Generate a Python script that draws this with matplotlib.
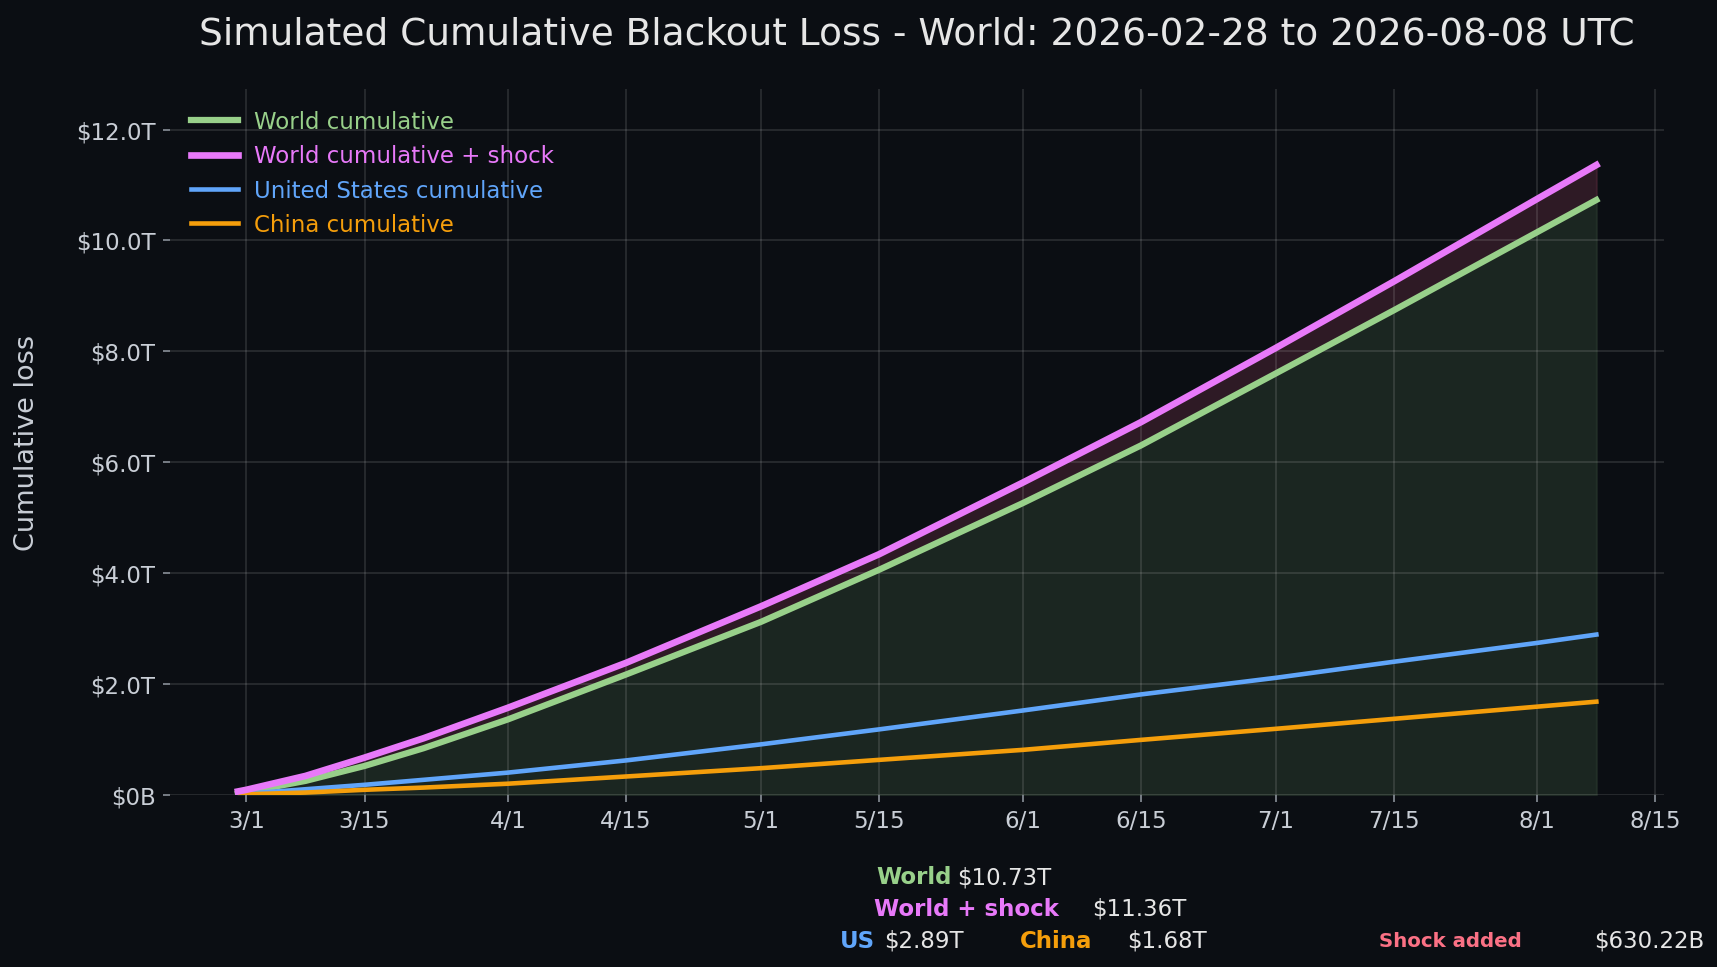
import matplotlib
matplotlib.use("Agg")
import matplotlib.pyplot as plt
import matplotlib.dates as mdates
import matplotlib.transforms as mtransforms
from matplotlib.ticker import FuncFormatter
import numpy as np
from datetime import datetime

# values, in trillions of USD
dates = ["2026-02-28", "2026-03-01", "2026-03-08", "2026-03-15", "2026-03-22",
         "2026-04-01", "2026-04-15", "2026-05-01", "2026-05-15", "2026-06-01",
         "2026-06-15", "2026-07-01", "2026-07-15", "2026-08-01", "2026-08-08"]
world = [0.02, 0.05, 0.25, 0.52, 0.84, 1.36, 2.17, 3.12, 4.06, 5.26,
         6.30, 7.60, 8.74, 10.15, 10.73]
world_shock = [0.06, 0.09, 0.34, 0.67, 1.02, 1.57, 2.38, 3.40, 4.34, 5.63,
               6.72, 8.06, 9.26, 10.75, 11.36]
us = [0.01, 0.02, 0.10, 0.18, 0.27, 0.40, 0.62, 0.91, 1.18, 1.52,
      1.81, 2.11, 2.40, 2.74, 2.89]
china = [0.005, 0.01, 0.04, 0.09, 0.13, 0.20, 0.33, 0.48, 0.63, 0.81,
         0.99, 1.19, 1.37, 1.59, 1.68]

totals_world = "$10.73T"
totals_shock = "$11.36T"
totals_us = "$2.89T"
totals_china = "$1.68T"
shock_added = "$630.22B"

BG = "#0b0e13"
GREEN = "#98d08a"
PINK = "#e879f9"
BLUE = "#60a5fa"
ORANGE = "#f59e0b"
TXT = "#e6e6e6"
TICK = "#c9ced6"

x = [datetime.strptime(d, "%Y-%m-%d") for d in dates]
w = np.array(world)
ws = np.array(world_shock)

fig = plt.figure(figsize=(11.45, 6.45), dpi=150, facecolor=BG)
ax = fig.add_axes([0.099, 0.178, 0.870, 0.729], facecolor=BG)

ax.fill_between(x, 0, w, color="#2a3a2e", alpha=0.55, lw=1)
ax.fill_between(x, w, ws, color="#5a2a3c", alpha=0.45, lw=1)
ax.plot(x, world, color=GREEN, lw=3, label="World cumulative", zorder=3)
ax.plot(x, world_shock, color=PINK, lw=3.2, label="World cumulative + shock", zorder=4)
ax.plot(x, us, color=BLUE, lw=2.2, label="United States cumulative", zorder=3)
ax.plot(x, china, color=ORANGE, lw=2.2, label="China cumulative", zorder=3)

ax.set_ylim(0, max(world_shock) * 1.12)
ax.set_yticks(np.arange(0, 13, 2))
ax.yaxis.set_major_formatter(FuncFormatter(lambda v, p: "$0B" if v == 0 else f"${v:.1f}T"))
ax.xaxis.set_major_locator(mdates.DayLocator(bymonthday=[1, 15]))
ax.xaxis.set_major_formatter(FuncFormatter(
    lambda v, p: f"{mdates.num2date(v).month}/{mdates.num2date(v).day}"))

ax.grid(True, color="white", alpha=0.13, lw=0.8)
for s in ax.spines.values():
    s.set_visible(False)
ax.tick_params(colors="#8a9099", labelcolor=TICK, labelsize=11)
ax.set_ylabel("Cumulative loss", color=TICK, fontsize=13, labelpad=17)

# title centred over the axes, placed in figure height
title_tr = mtransforms.blended_transform_factory(ax.transAxes, fig.transFigure)
ax.text(0.5, 0.983, "Simulated Cumulative Blackout Loss - World: 2026-02-28 to 2026-08-08 UTC",
        transform=title_tr, color=TXT, fontsize=18, ha="center", va="top")

leg = ax.legend(loc="upper left", frameon=False, fontsize=11, handlelength=2.05,
                handletextpad=0.7)
for t, l in zip(leg.get_texts(), leg.get_lines()):
    t.set_color(l.get_color())

# summary footer
fig.text(0.510, 0.093, "World", color=GREEN, fontsize=11, fontweight="bold", va="center")
fig.text(0.557, 0.093, totals_world, color=TXT, fontsize=11, va="center")
fig.text(0.509, 0.060, "World + shock", color=PINK, fontsize=11, fontweight="bold", va="center")
fig.text(0.636, 0.060, totals_shock, color=TXT, fontsize=11, va="center")
fig.text(0.489, 0.027, "US", color=BLUE, fontsize=11, fontweight="bold", va="center")
fig.text(0.515, 0.027, totals_us, color=TXT, fontsize=11, va="center")
fig.text(0.594, 0.027, "China", color=ORANGE, fontsize=11, fontweight="bold", va="center")
fig.text(0.656, 0.027, totals_china, color=TXT, fontsize=11, va="center")
fig.text(0.803, 0.027, "Shock added", color="#fb7185", fontsize=9.5, fontweight="bold", va="center")
fig.text(0.928, 0.027, shock_added, color=TXT, fontsize=11, va="center")

fig.savefig("out.png", dpi=150, facecolor=BG)
